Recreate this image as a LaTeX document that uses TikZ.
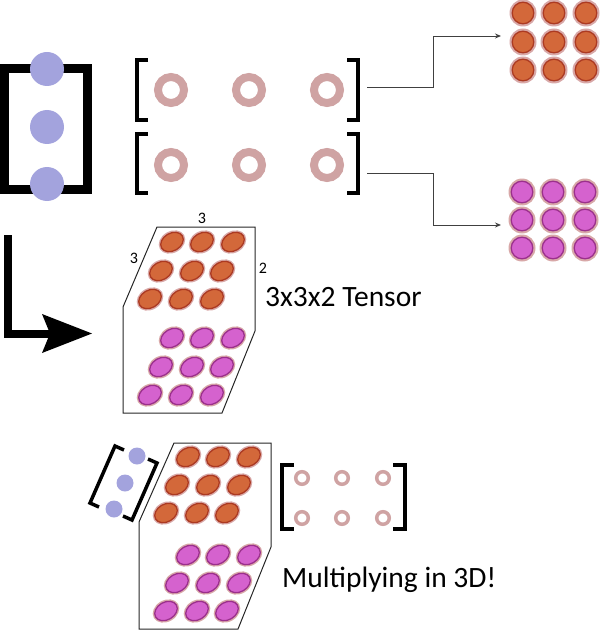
\documentclass[tikz,border=0pt]{standalone}
\usepackage{fontspec}
\setmainfont{Carlito}
\usetikzlibrary{arrows.meta}
\definecolor{blueDot}{RGB}{163,163,221}
\definecolor{ringC}{RGB}{207,163,163}
\definecolor{orangeF}{RGB}{211,104,58}
\definecolor{orangeB}{RGB}{172,58,34}
\definecolor{magF}{RGB}{213,98,206}
\definecolor{magB}{RGB}{155,48,140}
\definecolor{haloC}{RGB}{216,168,168}
\begin{document}
\begin{tikzpicture}[x=1pt,y=-1pt,
  bigbr/.style={line width=8.5pt,line join=miter},
  medbr/.style={line width=4pt,line join=miter},
  smallbr/.style={line width=3.5pt,line join=miter},
  ring/.style={draw=ringC,line width=8pt},
  smallring/.style={draw=ringC,line width=3.5pt},
  conn/.style={draw=black!75,line width=0.9pt,-{Stealth[length=6pt,width=5pt]}},
  tensorbox/.style={draw=black!85,line width=1pt},
  halo/.style={fill=haloC},
  orangedot/.style={fill=orangeF,draw=orangeB,line width=1.3pt},
  magdot/.style={fill=magF,draw=magB,line width=1.3pt},
  biglabel/.style={font=\fontsize{29.5}{34}\selectfont,inner sep=0pt},
  dimlabel/.style={font=\fontsize{16}{18}\selectfont,inner sep=0pt}]
\useasboundingbox (0,0) rectangle (599,631);

% big column vector
\draw[bigbr] (36,68.5) -- (4.5,68.5) -- (4.5,189.5) -- (36,189.5);
\draw[bigbr] (58,68.5) -- (87.5,68.5) -- (87.5,189.5) -- (58,189.5);
\foreach \y in {69,127,184} \fill[blueDot] (47,\y) circle (17);

% row vectors
\draw[medbr] (148,60) -- (137,60) -- (137,120) -- (148,120);
\draw[medbr] (347,60) -- (358,60) -- (358,120) -- (347,120);
\draw[medbr] (148,134) -- (137,134) -- (137,193) -- (148,193);
\draw[medbr] (347,134) -- (358,134) -- (358,193) -- (347,193);
\foreach \x in {171,249,327} {
  \draw[ring] (\x,90) circle (13);
  \draw[ring] (\x,165) circle (13);
}

% connectors
\coordinate (r1) at (367,87);
\coordinate (r2) at (367,173);
\coordinate (g1) at (501,36);
\coordinate (g2) at (501,225);
\draw[conn] (r1) -- ++(66,0) |- (g1);
\draw[conn] (r2) -- ++(66,0) |- (g2);

% orange grid
\foreach \x in {523,554,586} \foreach \y in {13,42,70} {
  \fill[halo] (\x,\y) circle (13.5);
  \draw[orangedot] (\x,\y) circle (10.8);
}
% magenta grid
\foreach \x in {522,553,585} \foreach \y in {192,220,248} {
  \fill[halo] (\x,\y) circle (13.5);
  \draw[magdot] (\x,\y) circle (10.8);
}

% L arrow
\draw[line width=8pt,line join=miter] (8,235) -- (8,333.5) -- (55,333.5);
\fill (92,333.5) -- (42,314) -- (50,333.5) -- (42,353) -- cycle;

% tensor 1
\draw[tensorbox] (157,227) -- (255,227) -- (255,331) -- (222,413) -- (123,413) -- (123,307) -- cycle;
\foreach \dy/\st in {0/orangedot,96/magdot} {
  \foreach \x/\y in {172/242,202/242,233/242,161/271,192/271,222/271,150/299,181/299,212/299} {
    \fill[halo,rotate around={30:(\x,\y+\dy)}] (\x,\y+\dy) ellipse (14 and 10.8);
    \draw[\st,rotate around={30:(\x,\y+\dy)}] (\x,\y+\dy) ellipse (12 and 8.8);
  }
}
\node[dimlabel] (t1a) at (202,218.5) {3};
\node[dimlabel] (t1b) at (134,258) {3};
\node[dimlabel] (t1c) at (263,268) {2};
\node[biglabel,anchor=base west] (t1) at (265,306) {3x3x2 Tensor};

% tensor 2
\draw[tensorbox] (174,443) -- (271,443) -- (271,547) -- (238,629) -- (139,629) -- (139,522) -- cycle;
\foreach \dy/\st in {0/orangedot,98/magdot} {
  \foreach \x/\y in {188/457,218/457,249/457,177/485,208/485,239/485,166/513,197/513,227/513} {
    \fill[halo,rotate around={30:(\x,\y+\dy)}] (\x,\y+\dy) ellipse (14 and 10.8);
    \draw[\st,rotate around={30:(\x,\y+\dy)}] (\x,\y+\dy) ellipse (12 and 8.8);
  }
}

% small rotated vector
\draw[smallbr] (124,450) -- (115,446) -- (90,503) -- (99,507);
\draw[smallbr] (148,459) -- (157,463) -- (132,520) -- (123,516);
\foreach \x/\y in {137/456,125/483,114/509} \fill[blueDot] (\x,\y) circle (8.5);

% small 2x3 matrix
\draw[medbr] (294,465) -- (282,465) -- (282,529) -- (294,529);
\draw[medbr] (393,465) -- (405,465) -- (405,529) -- (393,529);
\foreach \x in {302,342,383} {
  \draw[smallring] (\x,478) circle (6.3);
  \draw[smallring] (\x,518) circle (6.3);
}
\node[biglabel,anchor=base west] (m1) at (282,587) {Multiplying in 3D!};
\end{tikzpicture}
\end{document}
